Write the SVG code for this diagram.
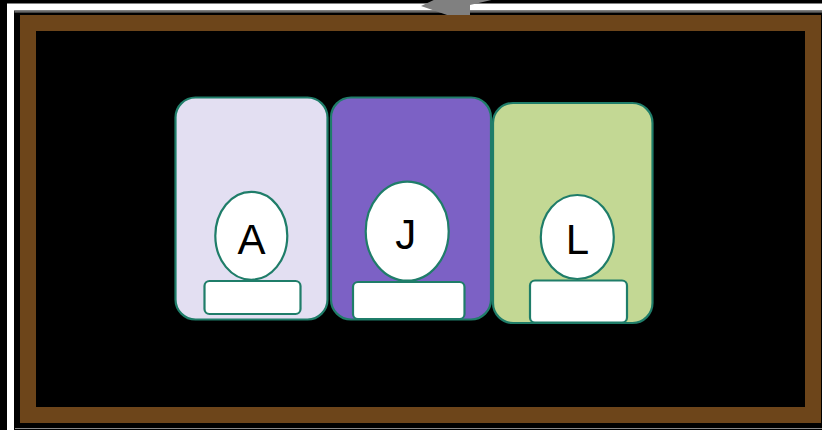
<svg xmlns="http://www.w3.org/2000/svg" width="822" height="430" viewBox="0 0 822 430">
<style>
.card{stroke:#1f7d69;stroke-width:2.2}
.face{fill:#ffffff;stroke:#1f7d69;stroke-width:2.2}
.lbl{font-family:"Liberation Sans",Arial,sans-serif;font-size:42px;fill:#000000;text-anchor:middle}
</style>
<rect x="0" y="0" width="822" height="430" fill="#000000"/>
<rect x="10.5" y="7" width="830" height="440" fill="none" stroke="#ffffff" stroke-width="7"/>
<line x1="14.5" y1="11.8" x2="822" y2="11.8" stroke="#8a8a8a" stroke-width="1.2"/>
<line x1="15" y1="428.5" x2="822" y2="428.5" stroke="#8a8a8a" stroke-width="1.2"/>
<polygon points="421,6 438,-2 500,-2 470,5 470,16 450,16" fill="#808080"/>
<rect x="28" y="23" width="785" height="392" fill="#000000" stroke="#6d451a" stroke-width="16"/>
<g id="nodeA">
<rect class="card" x="175.5" y="97.5" width="152" height="222" rx="20" fill="#e3dff2"/>
<ellipse class="face" cx="251.3" cy="235.8" rx="36" ry="44"/>
<rect class="face" x="204.5" y="281" width="96" height="33" rx="5"/>
<text class="lbl" x="251.5" y="253.5">A</text>
</g>
<g id="nodeJ">
<rect class="card" x="331" y="97.5" width="160" height="222" rx="20" fill="#7c61c5"/>
<ellipse class="face" cx="407.2" cy="231.2" rx="41.5" ry="49.5"/>
<rect class="face" x="353" y="282" width="111.5" height="37" rx="5"/>
<text class="lbl" x="405.7" y="248.5">J</text>
</g>
<g id="nodeL">
<rect class="card" x="493" y="103" width="159.5" height="220" rx="20" fill="#c3d894"/>
<ellipse class="face" cx="577.3" cy="237" rx="36.5" ry="42"/>
<rect class="face" x="530" y="280.5" width="97" height="42" rx="5"/>
<text class="lbl" x="577.5" y="254">L</text>
</g>
<g id="connectors"></g>
</svg>
